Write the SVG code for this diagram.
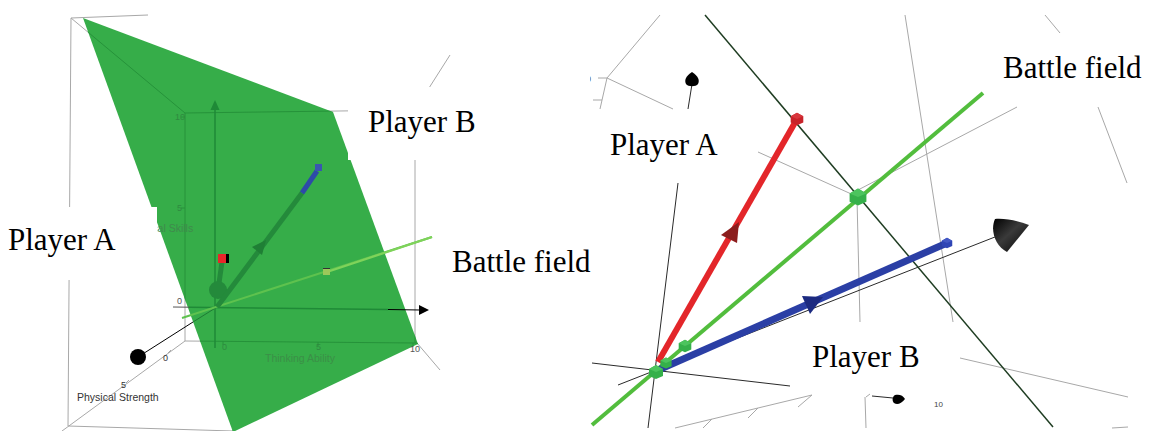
<svg xmlns="http://www.w3.org/2000/svg" width="1149" height="431" viewBox="0 0 1149 431">
<style>
.g{stroke:#a8a8a8;stroke-width:1;fill:none}
.k{stroke:#2a2a2a;stroke-width:1;fill:none}
.lbl{font-family:"Liberation Serif","Times New Roman",serif;font-size:31px;fill:#000}
.ax{font-family:"Liberation Sans",Arial,sans-serif;font-size:10.5px}
.tk{font-family:"Liberation Sans",Arial,sans-serif;font-size:9px}
.in{fill:#2f8a40}
</style>
<defs>
<clipPath id="plane"><polygon points="83,18 333,112 418,344 233,432"/></clipPath>
<clipPath id="rp"><rect x="590" y="0" width="559" height="431"/></clipPath>
<linearGradient id="coneG" x1="0" y1="0" x2="1" y2="1">
<stop offset="0" stop-color="#000"/><stop offset="0.45" stop-color="#3a3a3a"/><stop offset="1" stop-color="#000"/>
</linearGradient>
<g id="box">
<path d="M71,18 L148,15 M71,18 L185,113 M185,113 L415,110 M415,110 L450,55 M185,113 L185,341 M185,341 L417,343 M417,343 L440,370 M415,110 L415,343 M71,18 L68,426 M68,426 L233,431 M185,341 L62,431"/>
<path d="M181,117 L185,117 M181,208 L185,208 M223,341 L223,345 M318,342 L318,346 M413,343 L413,347 M168,353 L171,350 M126,383 L129,380"/>
</g>
<g id="cubeG"><polygon points="-7,-3 0,-7 7,-3 7,4 0,7 -7,4" fill="#35b04a"/><polygon points="-7,-3 0,-7 7,-3 0,0" fill="#4cc45e"/></g>
</defs>

<g id="left-panel">
<use href="#box" class="g"/>
<polygon id="plane-fill" points="83,18 333,112 418,344 233,432" fill="#36ad49"/>
<g clip-path="url(#plane)"><use href="#box" stroke="#26923a" stroke-width="1" fill="none"/></g>
<g id="axis-labels">
<text x="175" y="120" class="tk in">10</text>
<text x="177" y="211" class="tk in">5</text>
<text x="177" y="304" class="tk" fill="#555">0</text>
<text x="122" y="232" class="ax" fill="#3f8a4c">Technical Skills</text>
<text x="222" y="350" class="tk in">0</text>
<text x="316" y="350" class="tk in">5</text>
<text x="410" y="352" class="tk" fill="#555">10</text>
<text x="265" y="362" class="ax" fill="#3b8f47">Thinking Ability</text>
<text x="163" y="361" class="tk" fill="#333">0</text>
<text x="121" y="388" class="tk" fill="#333">5</text>
<text x="77" y="401" class="ax" fill="#333">Physical Strength</text>
</g>
<g id="axes">
<line x1="215" y1="108" x2="215" y2="348" stroke="#1f8a37" stroke-width="1.5"/>
<polygon points="215,100 210.5,110 219.5,110" fill="#1f8a37"/>
<line x1="173" y1="307" x2="189" y2="307.2" stroke="#555" stroke-width="1"/>
<line x1="189" y1="307.2" x2="388" y2="309.5" stroke="#1f8a37" stroke-width="1.5"/>
<line x1="388" y1="309.5" x2="420" y2="310" stroke="#000" stroke-width="1.2"/>
<polygon points="429,310 419,305 419,315" fill="#000"/>
</g>
<g id="vectors-left">
<line x1="138" y1="357" x2="193" y2="322" stroke="#000" stroke-width="1"/>
<line x1="193" y1="322" x2="217" y2="307" stroke="#1f7a33" stroke-width="1"/>
<circle cx="138" cy="357" r="8" fill="#000"/>
<line x1="182" y1="318" x2="432" y2="237" stroke="#5ec24e" stroke-width="2"/>
<line x1="327" y1="272" x2="432" y2="237" stroke="#7fd35a" stroke-width="2.2"/>
<rect x="323" y="268" width="7" height="7" fill="#9cc85a"/>
<line x1="323" y1="268.5" x2="330" y2="268.5" stroke="#333" stroke-width="1"/>
<line x1="218" y1="290" x2="222" y2="262" stroke="#248a3b" stroke-width="5"/>
<circle cx="218" cy="290" r="9" fill="#248a3b"/>
<rect x="218" y="254" width="8" height="9" fill="#e8262a"/>
<rect x="226" y="254" width="3" height="9" fill="#000"/>
<line x1="217" y1="307" x2="302" y2="193" stroke="#248a3b" stroke-width="5"/>
<line x1="302" y1="193" x2="317" y2="171" stroke="#2d4aa8" stroke-width="5"/>
<rect x="315" y="164" width="7" height="7" fill="#3a55b0"/>
<polygon points="266,240 262,255 252,247" fill="#1f7f35"/>
</g>
<rect x="0" y="207" width="157" height="73" fill="#fff"/>
<rect x="348" y="87" width="150" height="73" fill="#fff"/>
</g>

<g id="right-panel">
<g id="grid" class="g">
<path d="M660,15 L607,78 M607,78 L673,109 M607,78 L600,109 M598,78 L607,78 M593,100 L602,100"/>
<path d="M758,152 L858,197 M858,190 L1017,107 M905,15 L953,322 M1045,15 L1060,33 M1098,107 L1127,183 M857,199 L860,322"/>
<path d="M675,428 L812,395 M703,428 L712,419 M748,418 L758,408 M798,407 L812,395"/>
<path d="M960,358 L1128,397 M1112,428 L1128,427 M865,397 L866,428 M866,397 L870,394"/>
</g>
<text x="586" y="82" class="tk" fill="#555" clip-path="url(#rp)">0</text>
<text x="934" y="407" font-family="Liberation Sans, Arial, sans-serif" font-size="8" fill="#444">10</text>
<g id="thin-black" class="k">
<path d="M678,183 L648,428 M592,363 L790,386 M618,385 L1000,235 M688,109 L692,84 M872,396 L893,398"/>
</g>
<path d="M692,72 C686,76 684,80 686,84 C688,87 696,87 698,84 C700,80 698,76 692,72 Z" fill="#000"/>
<path d="M905,399 C903,395 899,394 895,395 C892,397 892,401 894,403 C897,405 901,404 905,399 Z" fill="#000"/>
<path d="M995,219 C990,230 995,246 1007,252 L1029,225 C1018,221 1005,218 995,219 Z" fill="url(#coneG)"/>
<line x1="705" y1="15" x2="1053" y2="427" stroke="#1f3d22" stroke-width="1.5"/>
<line x1="592" y1="425" x2="983" y2="93" stroke="#52bd3d" stroke-width="4"/>
<line x1="658" y1="362" x2="797" y2="119" stroke="#e3262a" stroke-width="6"/>
<line x1="656" y1="371" x2="947" y2="243" stroke="#2b3fa5" stroke-width="7"/>
<polygon points="739,222 737,243 721,235" fill="#8b1d1d"/>
<polygon points="823,297 810,314 802,296" fill="#1c2a80"/>
<g id="cubes">
<g transform="translate(797,119) scale(0.9)"><polygon points="-7,-3 0,-7 7,-3 7,4 0,7 -7,4" fill="#c8232a"/><polygon points="-7,-3 0,-7 7,-3 0,0" fill="#d8363c"/></g>
<g transform="translate(947,243) scale(0.75)"><polygon points="-7,-3 0,-7 7,-3 7,4 0,7 -7,4" fill="#2f45b5"/><polygon points="-7,-3 0,-7 7,-3 0,0" fill="#4358c4"/></g>
<use href="#cubeG" transform="translate(858,197) scale(1.2)"/>
<use href="#cubeG" transform="translate(685,346) scale(0.9)"/>
<use href="#cubeG" transform="translate(666,363) scale(0.8)"/>
<use href="#cubeG" transform="translate(656,372) scale(1)"/>
</g>
</g>

<g id="labels">
<text x="8" y="250" class="lbl">Player A</text>
<text x="368" y="132" class="lbl">Player B</text>
<text x="452" y="272" class="lbl">Battle field</text>
<text x="610" y="155" class="lbl">Player A</text>
<text x="1003" y="78" class="lbl">Battle field</text>
<text x="812" y="367" class="lbl">Player B</text>
</g>
</svg>
